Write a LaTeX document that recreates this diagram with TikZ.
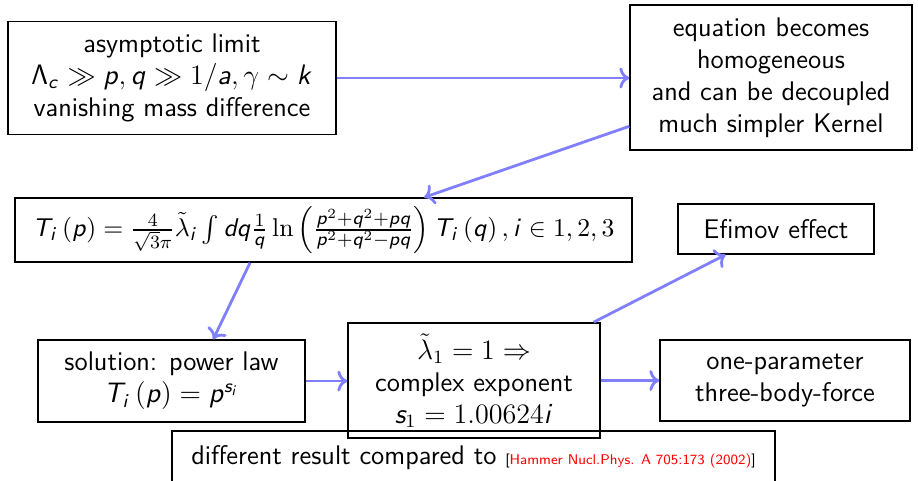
\documentclass[tikz,border=0pt,11pt]{standalone}
\usepackage{amsmath, amssymb}
\usepackage{tikz}
\usetikzlibrary{arrows.meta, positioning}
\renewcommand{\familydefault}{\sfdefault}
% sans serif italic letters in math, digits stay serif
\DeclareSymbolFont{sfletters}{OT1}{cmss}{m}{sl}
\makeatletter
\@tfor\ltr:=abcdefghijklmnopqrstuvwxyzABCDEFGHIJKLMNOPQRSTUVWXYZ\do{%
	\edef\x{\noexpand\DeclareMathSymbol{\ltr}{\noexpand\mathalpha}{sfletters}{`\ltr}}\x}
\makeatother
\definecolor{RefRed}{RGB}{255,0,0}

\begin{document}
\begin{tikzpicture}[x=0.015cm, y=-0.015cm, font=\fontsize{11.5}{13.6}\selectfont\sffamily,
	box/.style={draw, semithick, align=center, inner sep=2pt},
	fl/.style={-{To}, very thick, blue!50}]

	\useasboundingbox (0,0) rectangle (918,480);
	\clip (0,0) rectangle (918,480);

	% upper row
	\node[box, minimum width=4.92cm, minimum height=1.7cm] (asym) at (172,78)
		{asymptotic limit\\ $\mathsf{\Lambda}_c \gg p, q \gg 1/a, \gamma \sim k$\\ vanishing mass difference};
	\node[box, minimum width=4.23cm, minimum height=2.18cm] (homog) at (771,77.5)
		{equation becomes\\ homogeneous\\ and can be decoupled\\ much simpler Kernel};

	% integral equation
	\node[box, minimum width=9.26cm, minimum height=0.96cm, font=\fontsize{11.2}{13.6}\selectfont] (eq) at (323.5,230)
		{$T_i\left(p\right) = \frac{4}{\sqrt{3}\pi}\tilde{\lambda}_i \int dq \frac{1}{q}
		\ln\left(\frac{p^2+q^2+pq}{p^2+q^2-pq}\right) T_i\left(q\right), i \in 1,2,3$};
	\node[box, minimum width=2.94cm, minimum height=0.75cm] (efimov) at (776,229) {Efimov effect};

	% lower row
	\node[box, minimum width=4.0cm, minimum height=1.23cm] (sol) at (171.5,381)
		{solution: power law\\ $T_i\left(p\right) = p^{s_i}$};
	\node[box, minimum width=3.78cm, minimum height=1.73cm] (lam) at (474,380.5)
		{$\tilde{\lambda}_1 = 1 \Rightarrow$\\ complex exponent\\ $s_1 = 1.00624i$};
	\node[box, minimum width=3.75cm, minimum height=1.22cm] (onep) at (785,380.5)
		{one-parameter\\ three-body-force};
	\node[box, minimum width=9.05cm, minimum height=0.81cm] (diff) at (473.5,458)
		{different result compared to {\tiny[\textcolor{RefRed}{Hammer Nucl.Phys. A 705:173 (2002)}]}};

	% arrows
	\draw[fl] (asym.east) -- (asym.east -| homog.west);
	\draw[fl] (homog.199) -- (eq.18);
	\draw[fl] (eq.204) -- (sol.45);
	\draw[fl] (sol.east) -- (sol.east -| lam.west);
	\draw[fl] (lam.east) -- (lam.east -| onep.west);
	\draw[fl] (lam.26) -- (efimov.207);
\end{tikzpicture}
\end{document}
